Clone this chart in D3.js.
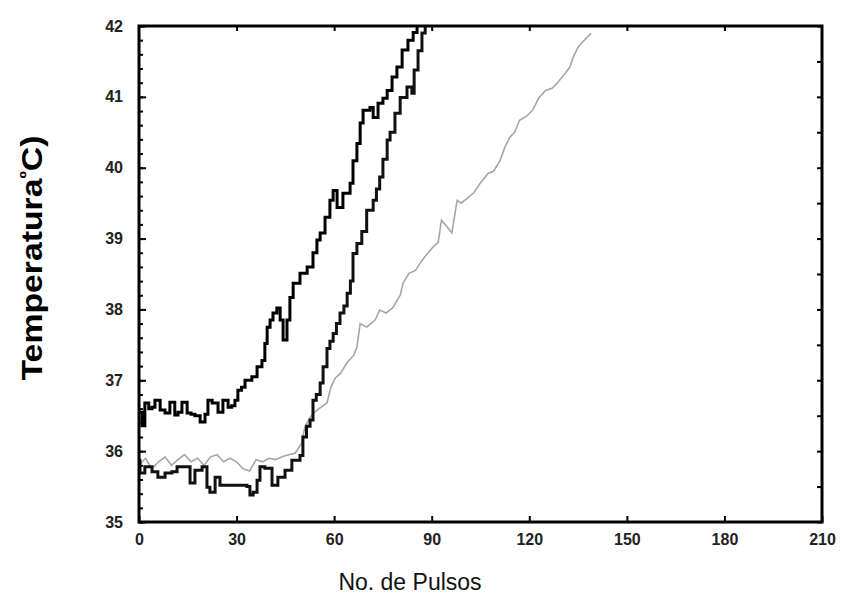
<!DOCTYPE html>
<html>
<head>
<meta charset="utf-8">
<script src="https://cdn.jsdelivr.net/npm/d3@7"></script>
<style>
  html, body { margin: 0; padding: 0; background: #fff; }
  svg { display: block; }
</style>
</head>
<body>
<svg id="chart" width="841" height="600"></svg>
<script>
// Pulse number and temperature (ºC) for each of the three heating runs
const pulsosA = [0,0.9,1.8,3,4,4.9,6.5,8,9.5,11,12,13.2,14.8,16,17.2,18.8,20.3,21.2,22.5,23.4,24.3,25.8,27.4,28.5,29.5,30.4,31.5,32.6,34.7,36.3,37.8,38.7,39.4,40.3,41.2,42.4,43.4,44.3,45.5,46.4,47.4,49.5,51.7,53.5,54.7,55.7,57.2,58.7,59.7,60.9,62.7,64.9,65.8,67,68,68.9,71,72,73.5,75,76.3,77.8,79.3,80.9,82.7,84.3,85.5];
const tempA   = [36.55,36.36,36.68,36.6,36.62,36.72,36.58,36.54,36.69,36.51,36.55,36.69,36.54,36.52,36.5,36.41,36.52,36.72,36.68,36.68,36.55,36.72,36.62,36.64,36.72,36.86,36.9,37.0,37.05,37.19,37.28,37.52,37.75,37.85,37.95,38.02,37.85,37.57,37.85,38.17,38.37,38.51,38.6,38.8,38.98,39.08,39.3,39.54,39.68,39.44,39.64,39.78,40.1,40.34,40.63,40.81,40.85,40.71,40.91,40.98,41.09,41.28,41.42,41.66,41.8,41.91,42.0];

const pulsosB = [0,0.3,1.8,4,5.8,8,10.1,11.7,14.8,15.7,17.2,19.4,20.9,21.8,23.4,24.9,27,29.5,31.7,33.2,34.1,35.1,36.3,37.2,38.7,40.9,42.7,44.9,47,49.5,50.4,51.5,52.6,53.5,54.5,55.7,56.6,57.8,58.7,59.7,60.7,61.8,63,64,65,65.8,67,68.5,70,72,73,74,75,76.3,77.2,78.7,80.3,82.4,83.9,84.6,85.8,87,88];
const tempB   = [35.87,35.69,35.78,35.71,35.63,35.69,35.71,35.78,35.78,35.55,35.73,35.78,35.49,35.42,35.63,35.52,35.52,35.52,35.52,35.5,35.38,35.42,35.59,35.78,35.76,35.52,35.63,35.73,35.87,35.94,36.2,36.35,36.44,36.72,36.8,36.96,37.19,37.45,37.55,37.66,37.8,37.95,38.05,38.23,38.4,38.79,38.93,39.1,39.4,39.54,39.7,39.87,40.12,40.39,40.5,40.77,40.99,41.14,41.05,41.38,41.65,41.9,42.0];

const pulsosC = [0,2,4,6,8,10,12,14,16,18,20,22,24,26,28,30,32,34,36,38,40,42,44,46,48,50,51,52.6,54,56,57.8,59,60.3,62,64,66,67,68,70,72.6,74,76,78,80.3,81.2,83,85,86.4,88,90.4,92,93,95,96.2,97.8,99,101,103,104.9,107.3,109,111,112.5,114,115.5,117,119,121,123,125,127,128.5,131,132.5,133.5,135,136.5,138,139];
const tempC   = [35.8,35.9,35.75,35.85,35.92,35.8,35.88,35.95,35.85,35.9,35.8,35.92,35.95,35.85,35.9,35.85,35.75,35.72,35.88,35.85,35.9,35.88,35.92,35.95,35.97,36.11,36.34,36.48,36.55,36.62,36.68,36.9,37.03,37.1,37.25,37.35,37.47,37.8,37.75,37.85,37.99,37.95,38.02,38.2,38.37,38.51,38.55,38.65,38.75,38.88,38.95,39.26,39.15,39.08,39.54,39.5,39.57,39.65,39.78,39.92,39.95,40.1,40.29,40.43,40.5,40.67,40.72,40.81,40.99,41.09,41.12,41.19,41.33,41.42,41.56,41.7,41.78,41.85,41.9];

// Axis ticks
const xTicks = [0,30,60,90,120,150,180,210];
const yTicks = [35,36,37,38,39,40,41,42];
const yMinor = d3.range(35, 42.001, 0.2).map(v => +v.toFixed(1));
const yRight = d3.range(35, 42.001, 0.5);

const svg = d3.select("#chart");
const plotLeft = 139, plotRight = 822, plotTop = 26, plotBottom = 522;

const x = d3.scaleLinear().domain([0, 210]).range([plotLeft, plotRight]);
const y = d3.scaleLinear().domain([35, 42]).range([plotBottom, plotTop]);

const fontTick = "'Liberation Sans', Arial, sans-serif";

// Minor ticks on the left axis, pointing inward
svg.append("g")
  .attr("transform", `translate(${plotLeft},0)`)
  .call(d3.axisLeft(y).tickValues(yMinor).tickSize(-4).tickFormat(""))
  .call(g => g.select(".domain").remove())
  .call(g => g.selectAll("line").attr("stroke", "#000").attr("stroke-width", 2));

// Major ticks and labels on the left axis
svg.append("g")
  .attr("transform", `translate(${plotLeft},0)`)
  .call(d3.axisLeft(y).tickValues(yTicks).tickSize(-7).tickPadding(16).tickFormat(d3.format("d")))
  .call(g => g.select(".domain").remove())
  .call(g => g.selectAll("line").attr("stroke", "#000").attr("stroke-width", 2))
  .call(g => g.selectAll("text")
    .attr("font-family", fontTick).attr("font-size", 16).attr("font-weight", "bold").attr("fill", "#222"));

// Right axis ticks
svg.append("g")
  .attr("transform", `translate(${plotRight},0)`)
  .call(d3.axisRight(y).tickValues(yRight).tickSize(-5).tickFormat(""))
  .call(g => g.select(".domain").remove())
  .call(g => g.selectAll("line").attr("stroke", "#000").attr("stroke-width", 2));

// Bottom axis ticks and labels
svg.append("g")
  .attr("transform", `translate(0,${plotBottom})`)
  .call(d3.axisBottom(x).tickValues(xTicks).tickSize(-6).tickPadding(12).tickFormat(d3.format("d")))
  .call(g => g.select(".domain").remove())
  .call(g => g.selectAll("line").attr("stroke", "#000").attr("stroke-width", 2))
  .call(g => g.selectAll("text")
    .attr("font-family", fontTick).attr("font-size", 16).attr("font-weight", "bold").attr("fill", "#222"));

// Top axis ticks
svg.append("g")
  .attr("transform", `translate(0,${plotTop})`)
  .call(d3.axisTop(x).tickValues(xTicks.slice(1, -1)).tickSize(-5).tickFormat(""))
  .call(g => g.select(".domain").remove())
  .call(g => g.selectAll("line").attr("stroke", "#000").attr("stroke-width", 2));

// Data lines
const stepLine = d3.line().x(d => x(d[0])).y(d => y(d[1])).curve(d3.curveStepAfter);
const plainLine = d3.line().x(d => x(d[0])).y(d => y(d[1]));

svg.append("path")
  .datum(d3.zip(pulsosC, tempC))
  .attr("fill", "none")
  .attr("stroke", "#a6a6a6")
  .attr("stroke-width", 1.6)
  .attr("d", plainLine);

svg.append("path")
  .datum(d3.zip(pulsosB, tempB))
  .attr("fill", "none")
  .attr("stroke", "#111")
  .attr("stroke-width", 3)
  .attr("d", stepLine);

svg.append("path")
  .datum(d3.zip(pulsosA, tempA))
  .attr("fill", "none")
  .attr("stroke", "#000")
  .attr("stroke-width", 3)
  .attr("d", stepLine);

// Frame
svg.append("rect")
  .attr("x", plotLeft).attr("y", plotTop)
  .attr("width", plotRight - plotLeft).attr("height", plotBottom - plotTop)
  .attr("fill", "none").attr("stroke", "#000").attr("stroke-width", 3);

// Axis titles
const yTitle = svg.append("text")
  .attr("transform", `translate(42,258) rotate(-90)`)
  .attr("text-anchor", "middle")
  .attr("font-family", "'Liberation Sans', Arial, sans-serif")
  .attr("font-size", 30)
  .attr("font-weight", "bold")
  .attr("fill", "#000")
  .attr("textLength", 245)
  .attr("lengthAdjust", "spacingAndGlyphs");
yTitle.append("tspan").text("Temperatura");
yTitle.append("tspan").attr("dy", -10).attr("font-size", 18).text("º");
yTitle.append("tspan").attr("dy", 10).text("C)");

svg.append("text")
  .attr("x", 410).attr("y", 590)
  .attr("text-anchor", "middle")
  .attr("font-family", "'Liberation Sans', Arial, sans-serif")
  .attr("font-size", 23)
  .attr("fill", "#111")
  .text("No. de Pulsos");
</script>
</body>
</html>
